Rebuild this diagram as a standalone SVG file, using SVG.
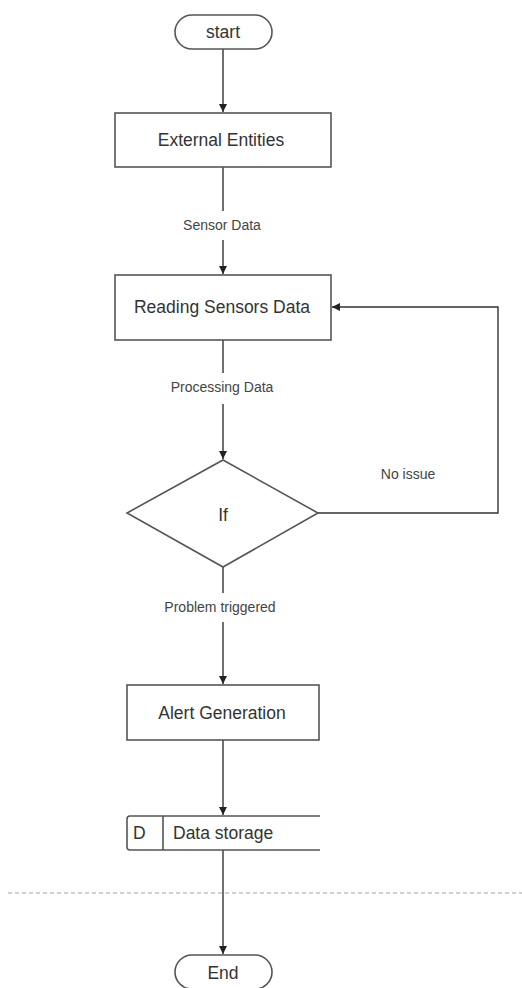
<svg xmlns="http://www.w3.org/2000/svg" width="522" height="988" viewBox="0 0 522 988">
<style>
.shape{fill:#fff;stroke:#555;stroke-width:1.6}
.edge{fill:none;stroke:#333;stroke-width:1.4}
.t{font-family:"Liberation Sans",Arial,sans-serif;font-size:17.5px;fill:#333;text-anchor:middle;dominant-baseline:central}
.lbl{font-family:"Liberation Sans",Arial,sans-serif;font-size:14px;fill:#444;text-anchor:middle;dominant-baseline:central}
.sep{stroke:#d0d0d0;stroke-width:2;stroke-dasharray:4 3}
</style>
<defs>
<marker id="arr" markerWidth="10" markerHeight="10" refX="8" refY="4" orient="auto" markerUnits="userSpaceOnUse">
<path d="M0,0 L8,4 L0,8 Z" fill="#222"/>
</marker>
</defs>
<rect width="522" height="988" fill="#fff"/>
<line class="sep" x1="8" y1="893" x2="522" y2="893"/>
<g id="connectors">
<line class="edge" x1="223" y1="49" x2="223" y2="112" marker-end="url(#arr)"/>
<line class="edge" x1="223" y1="167" x2="223" y2="211"/>
<text class="lbl" x="222" y="225">Sensor Data</text>
<line class="edge" x1="223" y1="240" x2="223" y2="274" marker-end="url(#arr)"/>
<line class="edge" x1="223" y1="340" x2="223" y2="373"/>
<text class="lbl" x="222" y="387">Processing Data</text>
<line class="edge" x1="223" y1="404" x2="223" y2="459" marker-end="url(#arr)"/>
<polyline class="edge" points="318,513 498,513 498,307 332,307" marker-end="url(#arr)"/>
<text class="lbl" x="408" y="474">No issue</text>
<line class="edge" x1="223" y1="567" x2="223" y2="593"/>
<text class="lbl" x="220" y="607">Problem triggered</text>
<line class="edge" x1="223" y1="622" x2="223" y2="684" marker-end="url(#arr)"/>
<line class="edge" x1="223" y1="740" x2="223" y2="815" marker-end="url(#arr)"/>
<line class="edge" x1="223" y1="850" x2="223" y2="954" marker-end="url(#arr)"/>
</g>
<g id="start">
<rect class="shape" x="175" y="15" width="97" height="34" rx="17"/>
<text class="t" x="223" y="32">start</text>
</g>
<g id="external">
<rect class="shape" x="115" y="113" width="216" height="54"/>
<text class="t" x="221" y="140">External Entities</text>
</g>
<g id="reading">
<rect class="shape" x="115" y="275" width="216" height="65"/>
<text class="t" x="222" y="307">Reading Sensors Data</text>
</g>
<g id="decision">
<polygon class="shape" points="223,460 318,513 223,567 127,513"/>
<text class="t" x="223" y="515">If</text>
</g>
<g id="alert">
<rect class="shape" x="127" y="685" width="192" height="55"/>
<text class="t" x="222" y="713">Alert Generation</text>
</g>
<g id="storage">
<path class="shape" d="M320,816 H130 Q127,816 127,819 V847 Q127,850 130,850 H320" fill="#fff"/>
<line class="shape" x1="163" y1="816" x2="163" y2="850"/>
<text class="t" x="133" y="833" style="text-anchor:start">D</text>
<text class="t" x="173" y="833" style="text-anchor:start">Data storage</text>
</g>
<g id="end">
<rect class="shape" x="175" y="955" width="97" height="34" rx="17"/>
<text class="t" x="223" y="973">End</text>
</g>
</svg>
